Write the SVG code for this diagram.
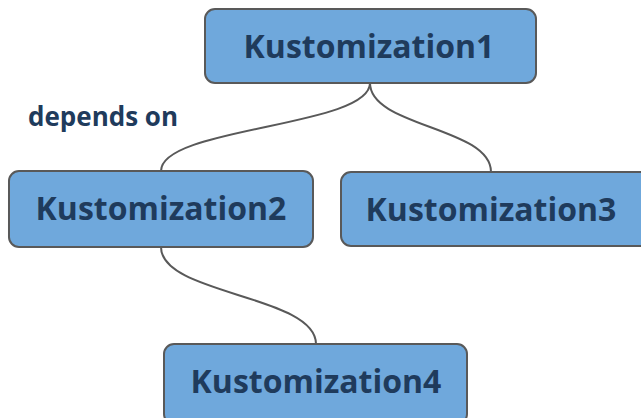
<svg xmlns="http://www.w3.org/2000/svg" width="641" height="418" viewBox="0 0 641 418">
  <style>
    .box { fill: #6fa8dc; stroke: #595959; stroke-width: 2; }
    .label { font-family: "Open Sans", "Noto Sans", sans-serif; font-weight: bold; font-size: 32px; fill: #1f3b5c; text-anchor: middle; }
    .edge { fill: none; stroke: #595959; stroke-width: 2; }
    .note { font-family: "Open Sans", "Noto Sans", sans-serif; font-weight: bold; font-size: 26px; fill: #1f3b5c; }
  </style>
  <rect width="641" height="418" fill="#ffffff"/>
  <g id="connectors">
    <path class="edge" d="M370,83 C370,127 161,127 161,171"/>
    <path class="edge" d="M370,83 C370,127 491,127 491,172"/>
    <path class="edge" d="M161,247 C161,295 316,295 316,344"/>
  </g>
  <text class="note" x="28" y="126">depends on</text>
  <g id="k1">
    <rect class="box" x="205" y="9" width="331" height="74" rx="10"/>
    <text class="label" x="369" y="58">Kustomization1</text>
  </g>
  <g id="k2">
    <rect class="box" x="9" y="171" width="304" height="76" rx="10"/>
    <text class="label" x="161" y="220">Kustomization2</text>
  </g>
  <g id="k3">
    <rect class="box" x="341" y="172" width="310" height="74" rx="10"/>
    <text class="label" x="491" y="221">Kustomization3</text>
  </g>
  <g id="k4">
    <rect class="box" x="164" y="344" width="303" height="80" rx="10"/>
    <text class="label" x="316" y="393">Kustomization4</text>
  </g>
</svg>
